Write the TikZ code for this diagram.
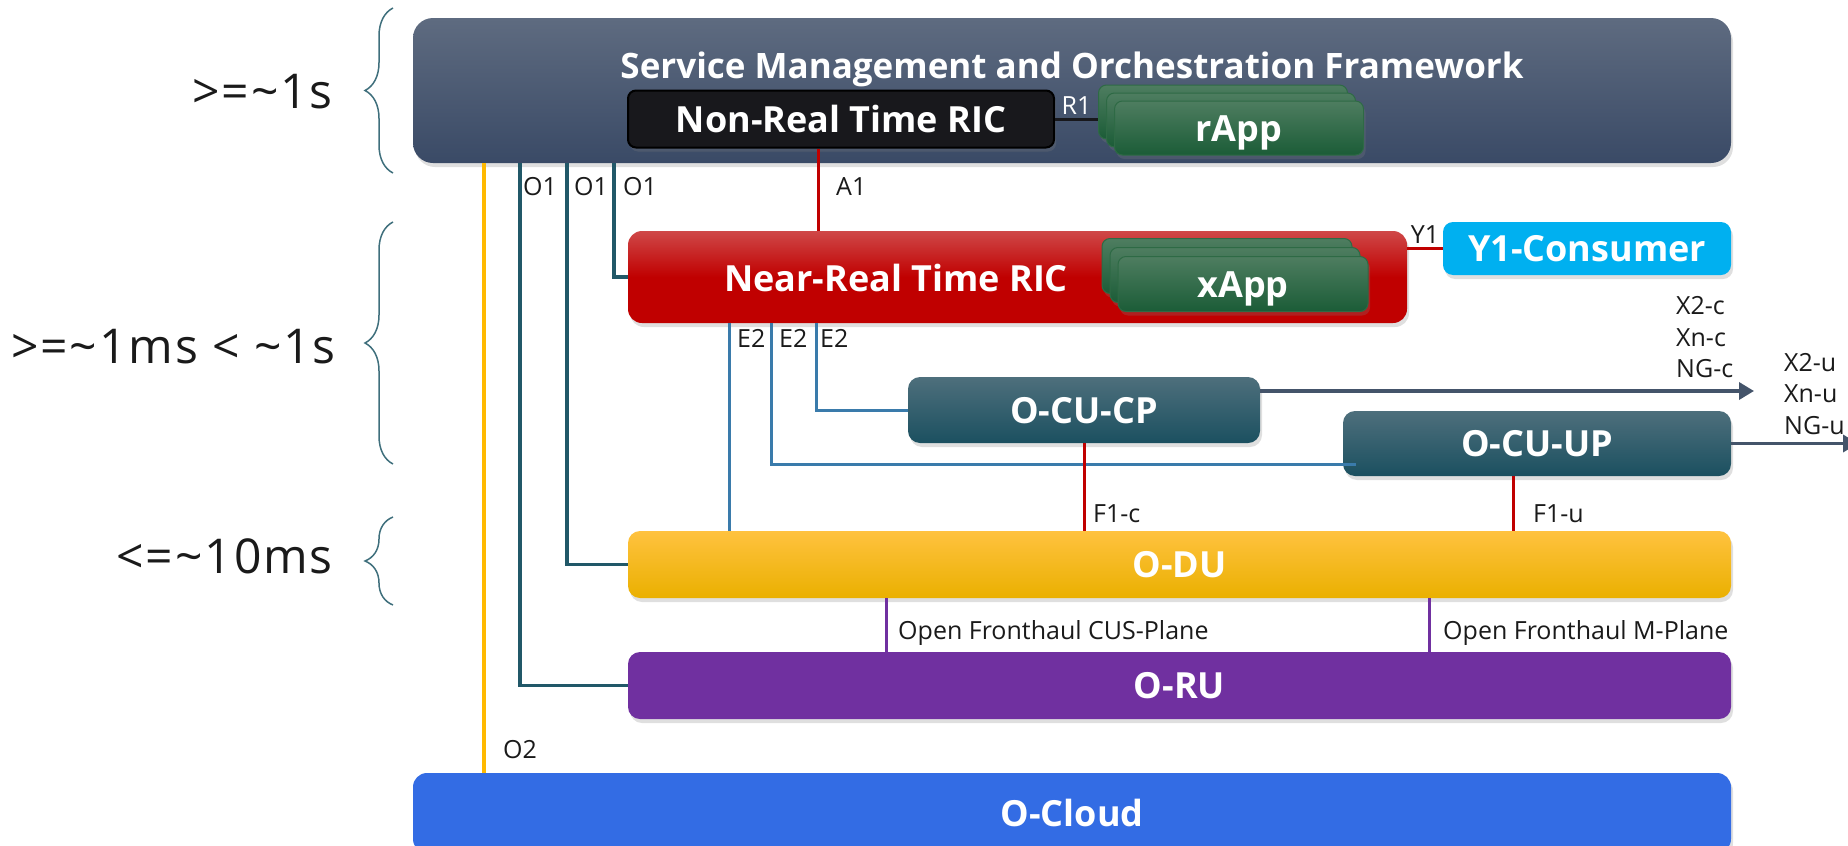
\documentclass[tikz,border=0pt]{standalone}
\usepackage{fontspec}
\setmainfont{Open Sans}
\usetikzlibrary{arrows.meta}
\usetikzlibrary{shadows}
\usetikzlibrary{decorations.pathreplacing}

\definecolor{smotop}{HTML}{5E6B80}
\definecolor{smobot}{HTML}{3A4A66}
\definecolor{nonrtfill}{HTML}{18181C}
\definecolor{apptop}{HTML}{4E7D60}
\definecolor{appbot}{HTML}{1B5C37}
\definecolor{appedge}{HTML}{2E6A45}
\definecolor{nrttop}{HTML}{CF4848}
\definecolor{nrtred}{HTML}{C00000}
\definecolor{ycyan}{HTML}{00B0F0}
\definecolor{cutop}{HTML}{4E6F7C}
\definecolor{cubot}{HTML}{1B5060}
\definecolor{dutop}{HTML}{FFC23F}
\definecolor{dumid}{HTML}{FCC000}
\definecolor{dubot}{HTML}{EAB000}
\definecolor{rupurple}{HTML}{7030A0}
\definecolor{cloudblue}{HTML}{336CE4}
\definecolor{otwo}{HTML}{FFB900}
\definecolor{oone}{HTML}{215868}
\definecolor{etwo}{HTML}{3A7BAB}
\definecolor{slate}{HTML}{44546A}
\definecolor{bracecol}{HTML}{3F6F7C}
\definecolor{ink}{HTML}{1A1A1A}

\tikzset{
  box/.style={rectangle, rounded corners=14pt, inner sep=0pt, text=white,
    font=\bfseries\fontsize{36}{40}\selectfont, text height=26pt, text depth=0pt,
    drop shadow={shadow xshift=2pt, shadow yshift=-4pt, opacity=0.25}},
  boxtext/.style={inner sep=0pt, text=white,
    font=\bfseries\fontsize{36}{40}\selectfont, text height=26pt, text depth=0pt},
  appcard/.style={box, rounded corners=8pt, minimum width=249pt, minimum height=54pt,
    top color=apptop, bottom color=appbot, draw=appedge, line width=1pt},
  lbl/.style={inner sep=0pt, text=ink, font=\fontsize{25}{30}\selectfont,
    text height=18pt, text depth=0pt},
  timelbl/.style={inner sep=0pt, text=ink,
    font=\fontsize{48}{54}\selectfont\addfontfeatures{LetterSpace=4},
    text height=34pt, text depth=0pt},
  o1line/.style={draw=oone, line width=3.5pt},
  e2line/.style={draw=etwo, line width=3pt},
  redline/.style={draw=nrtred, line width=3pt},
  fhline/.style={draw=rupurple, line width=3pt},
  xarrow/.style={draw=slate, line width=3.5pt, -{Triangle[length=15pt,width=17pt]}},
  latency/.style={draw=bracecol, line width=1.5pt, decorate,
    decoration={brace, amplitude=28pt}}
}

\begin{document}
\begin{tikzpicture}[x=1pt, y=-1pt]
  \useasboundingbox (0,0) rectangle (1848,846);
  \clip (0,0) rectangle (1848,846);

  % latency braces
  \draw[latency] (393,173) -- (393,8);
  \draw[latency] (393,464) -- (393,222);
  \draw[latency] (393,605) -- (393,517);
  \node[timelbl, anchor=east] (tsmo) at (333,91) {>=\textasciitilde1s};
  \node[timelbl, anchor=east] (tnrt) at (336,346) {>=\textasciitilde1ms < \textasciitilde1s};
  \node[timelbl, anchor=east] (tdu) at (333,556) {<=\textasciitilde10ms};

  % boxes
  \node[box, rounded corners=20pt, minimum width=1318pt, minimum height=145pt,
    top color=smotop, bottom color=smobot] (smo) at (1072,90.5) {};
  \node[boxtext, font=\bfseries\fontsize{35}{40}\selectfont] (smotitle) at (1072,65)
    {Service Management and Orchestration Framework};
  \node[box, rounded corners=8pt, minimum width=426pt, minimum height=57pt,
    fill=nonrtfill, draw=black, line width=2pt] (nonrt) at (841,119) {Non-Real Time RIC};
  \foreach \k/\n/\t in {0/rappA/{},1/rappB/{},2/rappC/rApp} {
    \node[appcard] (\n) at ({1223+8*\k},{112+8*\k}) {\t};
  }

  \node[box, minimum width=779pt, minimum height=92pt,
    top color=nrttop, bottom color=nrtred, middle color=nrtred] (nrt) at (1017.5,277) {};
  \node[boxtext] (nrttext) at (896,278) {Near-Real Time RIC};
  \foreach \k/\n/\t in {0/xappA/{},1/xappB/{},2/xappC/xApp} {
    \node[appcard, minimum width=250pt, minimum height=55pt] (\n) at ({1227+8*\k},{266+9*\k}) {\t};
  }
  \node[box, rounded corners=10pt, minimum width=288pt, minimum height=53pt,
    fill=ycyan] (ycons) at (1587,248.5) {Y1-Consumer};

  \node[box, rounded corners=12pt, minimum width=352pt, minimum height=66pt,
    top color=cutop, bottom color=cubot] (ocucp) at (1084,410) {O-CU-CP};
  \node[box, rounded corners=12pt, minimum width=388pt, minimum height=65pt,
    top color=cutop, bottom color=cubot] (ocuup) at (1537,443.5) {O-CU-UP};

  \node[box, rounded corners=12pt, minimum width=1103pt, minimum height=67pt,
    top color=dutop, middle color=dumid, bottom color=dubot] (odu) at (1179.5,564.5) {O-DU};
  \node[box, rounded corners=12pt, minimum width=1103pt, minimum height=67pt,
    fill=rupurple] (oru) at (1179.5,685.5) {O-RU};
  \node[box, rounded corners=14pt, minimum width=1318pt, minimum height=80pt,
    fill=cloudblue] (ocloud) at (1072,813) {O-Cloud};

  % x positions of the vertical links
  \coordinate (o2x) at (484,0);
  \coordinate (o1a) at (520,0);
  \coordinate (o1b) at (567,0);
  \coordinate (o1c) at (614,0);
  \coordinate (a1x) at (818,0);
  \coordinate (e2a) at (729,0);
  \coordinate (e2b) at (771,0);
  \coordinate (e2c) at (816,0);
  \coordinate (f1ux) at (1513,0);
  \coordinate (fhcx) at (886,0);
  \coordinate (fhmx) at (1429,0);
  \coordinate (x2cend) at (1754,391);
  \coordinate (x2uend) at (1858,443.5);

  % links
  \draw[draw=nonrtfill, line width=3pt] (nonrt.east) -- (nonrt.east -| rappA.west)
    node[lbl, text=white, midway, above=3pt] (r1lbl) {R1};
  \draw[draw=otwo, line width=3.5pt] (o2x |- smo.south) -- (o2x |- ocloud.north);
  \draw[o1line] (o1a |- smo.south) |- (oru.west);
  \draw[o1line] (o1b |- smo.south) |- (odu.west);
  \draw[o1line] (o1c |- smo.south) |- (nrt.west);
  \draw[redline] (a1x |- nonrt.south) -- (a1x |- nrt.north);
  \draw[redline] (nrt.east |- ycons.west) -- (ycons.west)
    node[lbl, midway, above=4pt] (y1lbl) {Y1};
  \draw[e2line] (e2c |- nrt.south) |- (ocucp.west);
  \draw[e2line] (e2b |- nrt.south) |- ([xshift=13pt, yshift=-20.5pt]ocuup.west);
  \draw[e2line] (e2a |- nrt.south) -- (e2a |- odu.north);
  \draw[redline] (ocucp.south) -- (ocucp.south |- odu.north);
  \draw[redline] (f1ux |- ocuup.south) -- (f1ux |- odu.north);
  \draw[fhline] (fhcx |- odu.south) -- (fhcx |- oru.north);
  \draw[fhline] (fhmx |- odu.south) -- (fhmx |- oru.north);
  \draw[xarrow] (ocucp.east |- x2cend) -- (x2cend);
  \draw[xarrow] (ocuup.east) -- (x2uend);

  % link names
  \foreach \x/\n in {523/o1lblA, 574/o1lblB, 623/o1lblC} {
    \node[lbl, anchor=west] (\n) at (\x,186) {O1};
  }
  \node[lbl, anchor=west] (a1lbl) at (836,186) {A1};
  \foreach \x/\n in {737/e2lblA, 779/e2lblB, 820/e2lblC} {
    \node[lbl, anchor=west] (\n) at (\x,338) {E2};
  }
  \node[lbl, anchor=west] (f1clbl) at (1093,513) {F1-c};
  \node[lbl, anchor=west] (f1ulbl) at (1533,513) {F1-u};
  \node[lbl, anchor=west] (fhclbl) at (898,630) {Open Fronthaul CUS-Plane};
  \node[lbl, anchor=west] (fhmlbl) at (1443,630) {Open Fronthaul M-Plane};
  \node[lbl, anchor=west] (o2lbl) at (503,749) {O2};
  \foreach \t/\y/\n in {X2-c/305/xcA, Xn-c/337/xcB, NG-c/368/xcC} {
    \node[lbl, anchor=west] (\n) at (1676,\y) {\t};
  }
  \foreach \t/\y/\n in {X2-u/362/xuA, Xn-u/393/xuB, NG-u/425/xuC} {
    \node[lbl, anchor=west] (\n) at (1784,\y) {\t};
  }
\end{tikzpicture}
\end{document}
